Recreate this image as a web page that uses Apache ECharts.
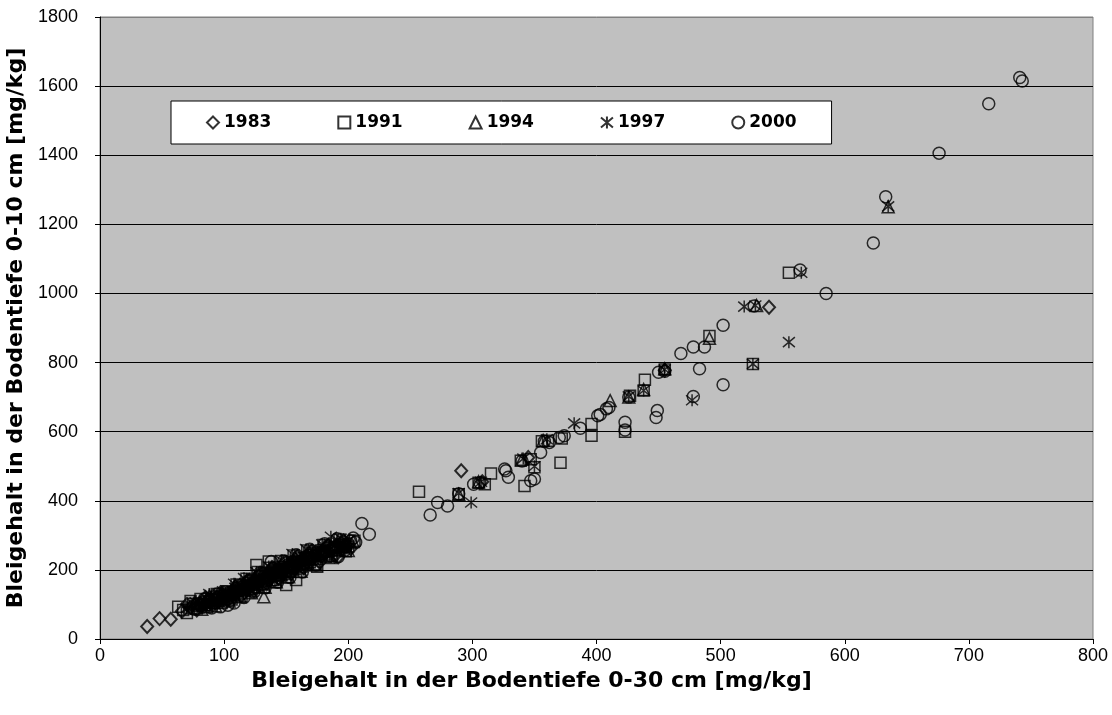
<!DOCTYPE html>
<html>
<head>
<meta charset="utf-8">
<script src="https://cdn.jsdelivr.net/npm/echarts@6/dist/echarts.min.js"></script>
<style>
  html, body { margin: 0; padding: 0; background: #ffffff; }
  #chart { width: 1112px; height: 715px; }
</style>
</head>
<body>
<div id="chart"></div>
<script>
// Lead content: topsoil 0-30 cm (x) vs. 0-10 cm (y), mg/kg, per sampling year
const yearNames = ['1983', '1991', '1994', '1997', '2000'];

const pts1983 = [
  [38,36],[48,59],[57,57],[66,80],[70,100],[73,92],[78,84],[81,102],[85,120],[87,114],[91,98],
  [94,120],[97,134],[100,124],[103,112],[106,134],[109,150],[112,140],[114,126],[117,148],
  [119,168],[122,160],[124,140],[127,166],[129,190],[132,176],[134,160],[137,184],[139,206],
  [142,194],[144,176],[147,202],[149,222],[152,210],[154,190],[157,220],[159,238],[162,228],
  [164,206],[168,236],[171,254],[174,244],[177,222],[180,252],[184,272],[186,260],[189,240],
  [192,238],[196,284],[199,270],[202,262],
  [291,487],[308,455],[345,525],[455,778],[539,960]
];

const pts1991 = [
  [63,93],[67,84],[70,75],[73,110],[75,102],[78,88],[80,100],[81,116],[84,98],[85,108],[86,92],
  [88,110],[90,116],[92,104],[94,130],[95,114],[96,122],[98,104],[99,124],[100,115],[102,138],
  [103,126],[104,132],[106,114],[107,136],[108,128],[110,158],[111,140],[112,146],[114,124],
  [115,150],[116,140],[118,174],[119,162],[120,155],[122,138],[123,168],[124,150],[126,214],
  [127,194],[128,175],[129,180],[131,160],[132,150],[133,182],[134,190],[136,224],[137,206],
  [138,170],[139,190],[141,196],[142,164],[143,200],[144,184],[146,226],[147,208],[148,196],
  [150,156],[151,178],[152,198],[153,206],[155,214],[156,242],[157,222],[158,171],[160,226],
  [161,194],[162,218],[163,210],[166,236],[167,256],[168,232],[169,222],[172,248],[173,216],
  [175,209],[176,242],[178,252],[180,272],[182,238],[183,256],[186,264],[187,240],[188,262],
  [190,256],[193,288],[195,272],[196,266],[198,254],[200,268],[205,284],
  [257,426],[289,419],[305,452],[310,448],[315,479],[339,516],[342,443],[347,520],[350,497],
  [356,572],[361,574],[371,510],[372,580],[396,588],[396,622],[423,600],[427,704],[438,719],
  [439,750],[455,780],[491,877],[526,796],[555,1060]
];

const pts1994 = [
  [72,90],[76,106],[79,98],[81,104],[82,86],[85,106],[86,112],[88,124],[90,118],[91,108],
  [93,96],[95,112],[96,120],[98,134],[99,126],[101,128],[103,120],[104,110],[105,132],[107,140],
  [109,156],[110,142],[111,134],[113,122],[115,152],[116,146],[118,170],[119,146],[121,160],
  [122,134],[123,166],[125,172],[127,158],[128,188],[130,170],[132,122],[133,150],[135,180],
  [136,186],[138,208],[139,172],[141,188],[142,166],[143,194],[145,202],[146,186],[147,224],
  [149,206],[150,196],[152,180],[153,196],[154,210],[156,218],[157,238],[159,224],[160,208],
  [162,196],[164,230],[165,236],[167,220],[168,254],[170,238],[171,244],[174,214],[175,234],
  [177,248],[179,256],[181,270],[183,246],[184,256],[186,236],[188,266],[190,272],[192,284],
  [193,258],[196,268],[198,278],[200,256],[204,282],
  [289,419],[305,455],[340,520],[357,575],[411,690],[426,700],[438,722],[455,782],[491,870],
  [529,965],[635,1251]
];

const pts1997 = [
  [70,90],[74,96],[77,106],[79,98],[80,104],[83,94],[84,106],[86,116],[88,130],[89,122],
  [91,110],[92,118],[94,102],[96,128],[97,116],[99,138],[101,134],[102,126],[104,116],[105,126],
  [107,138],[108,160],[109,148],[111,136],[112,128],[113,142],[115,154],[116,176],[117,162],
  [119,150],[121,156],[121,140],[123,164],[125,174],[126,194],[128,176],[129,166],[131,154],
  [132,172],[133,188],[136,210],[137,180],[138,192],[140,200],[141,168],[142,184],[144,192],
  [146,228],[147,202],[148,212],[150,184],[151,204],[152,214],[155,226],[155,246],[157,210],
  [159,216],[160,200],[162,234],[163,226],[166,226],[166,260],[168,236],[170,246],[172,220],
  [174,236],[176,248],[178,258],[179,274],[181,262],[182,250],[185,244],[186,296],[189,270],
  [191,286],[194,290],[196,276],[197,270],[199,262],[201,288],
  [289,422],[299,395],[307,455],[341,522],[350,500],[360,578],[382,624],[426,702],[438,719],
  [455,780],[477,691],[519,962],[526,796],[528,965],[555,859],[565,1060],[635,1252]
];

const pts2000 = [
  [76,86],[79,102],[81,96],[82,92],[84,116],[87,110],[88,100],[90,90],[92,112],[93,104],
  [94,130],[97,93],[98,112],[99,118],[101,136],[102,124],[103,98],[105,112],[106,122],[107,130],
  [108,104],[110,136],[111,154],[112,138],[114,130],[116,120],[117,142],[118,150],[120,170],
  [121,156],[122,144],[124,136],[125,150],[126,162],[128,170],[129,192],[130,156],[132,166],
  [133,148],[134,176],[136,184],[138,224],[139,204],[140,192],[141,182],[143,164],[145,200],
  [146,190],[148,226],[149,190],[151,202],[152,216],[153,178],[155,220],[156,206],[158,244],
  [160,232],[161,214],[163,194],[164,218],[166,230],[168,242],[169,260],[171,244],[172,230],
  [174,214],[176,256],[178,240],[180,246],[181,276],[183,254],[184,266],[186,240],[188,258],
  [189,266],[191,290],[192,238],[194,276],[195,262],[197,256],[198,268],[200,276],[202,284],
  [204,292],[206,280],[211,334],[217,303],
  [266,359],[272,395],[280,385],[289,420],[301,448],[306,452],[326,492],[327,487],[329,468],
  [340,515],[347,458],[350,463],[355,540],[358,572],[362,569],[370,583],[374,588],[387,610],
  [401,646],[403,650],[408,666],[410,670],[423,605],[423,627],[426,700],[448,641],[449,661],
  [450,772],[455,775],[468,826],[478,702],[478,845],[483,782],[487,845],[502,736],[502,908],
  [527,964],[564,1068],[585,1000],[623,1146],[633,1280],[676,1406],[716,1549],[741,1625],[743,1615]
];

const xTicks = { min: 0, max: 800, step: 100 };
const yTicks = { min: 0, max: 1800, step: 200 };

const FONT = 'Liberation Sans, Arial, sans-serif';
const BOLD_FONT = 'DejaVu Sans, Liberation Sans, Arial, sans-serif';
const ASTERISK = 'path://M0,1L12,11M0,11L12,1M6,0L6,12';

const hollow = (w) => ({ color: 'rgba(0,0,0,0)', borderColor: '#000', borderWidth: w });

const seriesDefs = [
  { data: pts1983, symbol: 'diamond', size: [12, 13], border: 2 },
  { data: pts1991, symbol: 'rect', size: 11, border: 1.5 },
  { data: pts1994, symbol: 'triangle', size: 12, border: 1.5 },
  { data: pts1997, symbol: ASTERISK, size: 12, border: 1.5 },
  { data: pts2000, symbol: 'circle', size: 12, border: 1.5 }
];

const chart = echarts.init(document.getElementById('chart'), null, { renderer: 'canvas' });

// split lines at every y tick; the top one sits on the grey plot border
const nLines = (yTicks.max - yTicks.min) / yTicks.step + 1;
const splitColors = Array.from({ length: nLines }, (_, i) => (i === nLines - 1 ? '#808080' : '#000000'));

const titleStyle = { fontFamily: BOLD_FONT, fontSize: 22, fontWeight: 'bold', color: '#000' };

chart.setOption({
  animation: false,
  backgroundColor: '#ffffff',
  textStyle: { fontFamily: FONT },
  grid: {
    left: 100, right: 19, top: 17, bottom: 76,
    containLabel: false, outerBoundsMode: 'none',
    show: true, backgroundColor: '#c0c0c0', borderColor: '#808080', borderWidth: 1
  },
  legend: {
    left: 171, top: 101,
    orient: 'horizontal',
    backgroundColor: '#ffffff',
    borderColor: '#000000', borderWidth: 1,
    padding: [13, 35, 13, 35],
    itemGap: 66, itemWidth: 12, itemHeight: 12,
    textStyle: { fontFamily: BOLD_FONT, fontSize: 17, fontWeight: 'bold', color: '#000' },
    data: yearNames
  },
  xAxis: {
    type: 'value', min: xTicks.min, max: xTicks.max, interval: xTicks.step,
    name: 'Bleigehalt in der Bodentiefe 0-30 cm [mg/kg]',
    nameLocation: 'middle', nameGap: 21,
    nameTextStyle: Object.assign({ padding: [0, 130, 0, 0] }, titleStyle),
    axisLine: { show: true, onZero: false, lineStyle: { color: '#000', width: 1 } },
    axisTick: { show: true, inside: false, length: 5, lineStyle: { color: '#000' } },
    axisLabel: { fontFamily: FONT, fontSize: 18, color: '#000', margin: 8 },
    splitLine: { show: false }
  },
  yAxis: {
    type: 'value', min: yTicks.min, max: yTicks.max, interval: yTicks.step,
    name: 'Bleigehalt in der Bodentiefe 0-10 cm [mg/kg]',
    nameLocation: 'middle', nameGap: 71, nameRotate: 90,
    nameTextStyle: titleStyle,
    axisLine: { show: true, onZero: false, lineStyle: { color: '#000', width: 1 } },
    axisTick: { show: true, inside: false, length: 5, lineStyle: { color: '#000' } },
    axisLabel: { fontFamily: FONT, fontSize: 18, color: '#000', margin: 22, formatter: (v) => String(v) },
    splitLine: { show: true, lineStyle: { color: splitColors, width: 1 } }
  },
  series: seriesDefs.map((d, i) => ({
    name: yearNames[i],
    type: 'scatter',
    data: d.data,
    symbol: d.symbol,
    symbolSize: d.size,
    itemStyle: hollow(d.border),
    emphasis: { disabled: true }
  }))
});
</script>
</body>
</html>
